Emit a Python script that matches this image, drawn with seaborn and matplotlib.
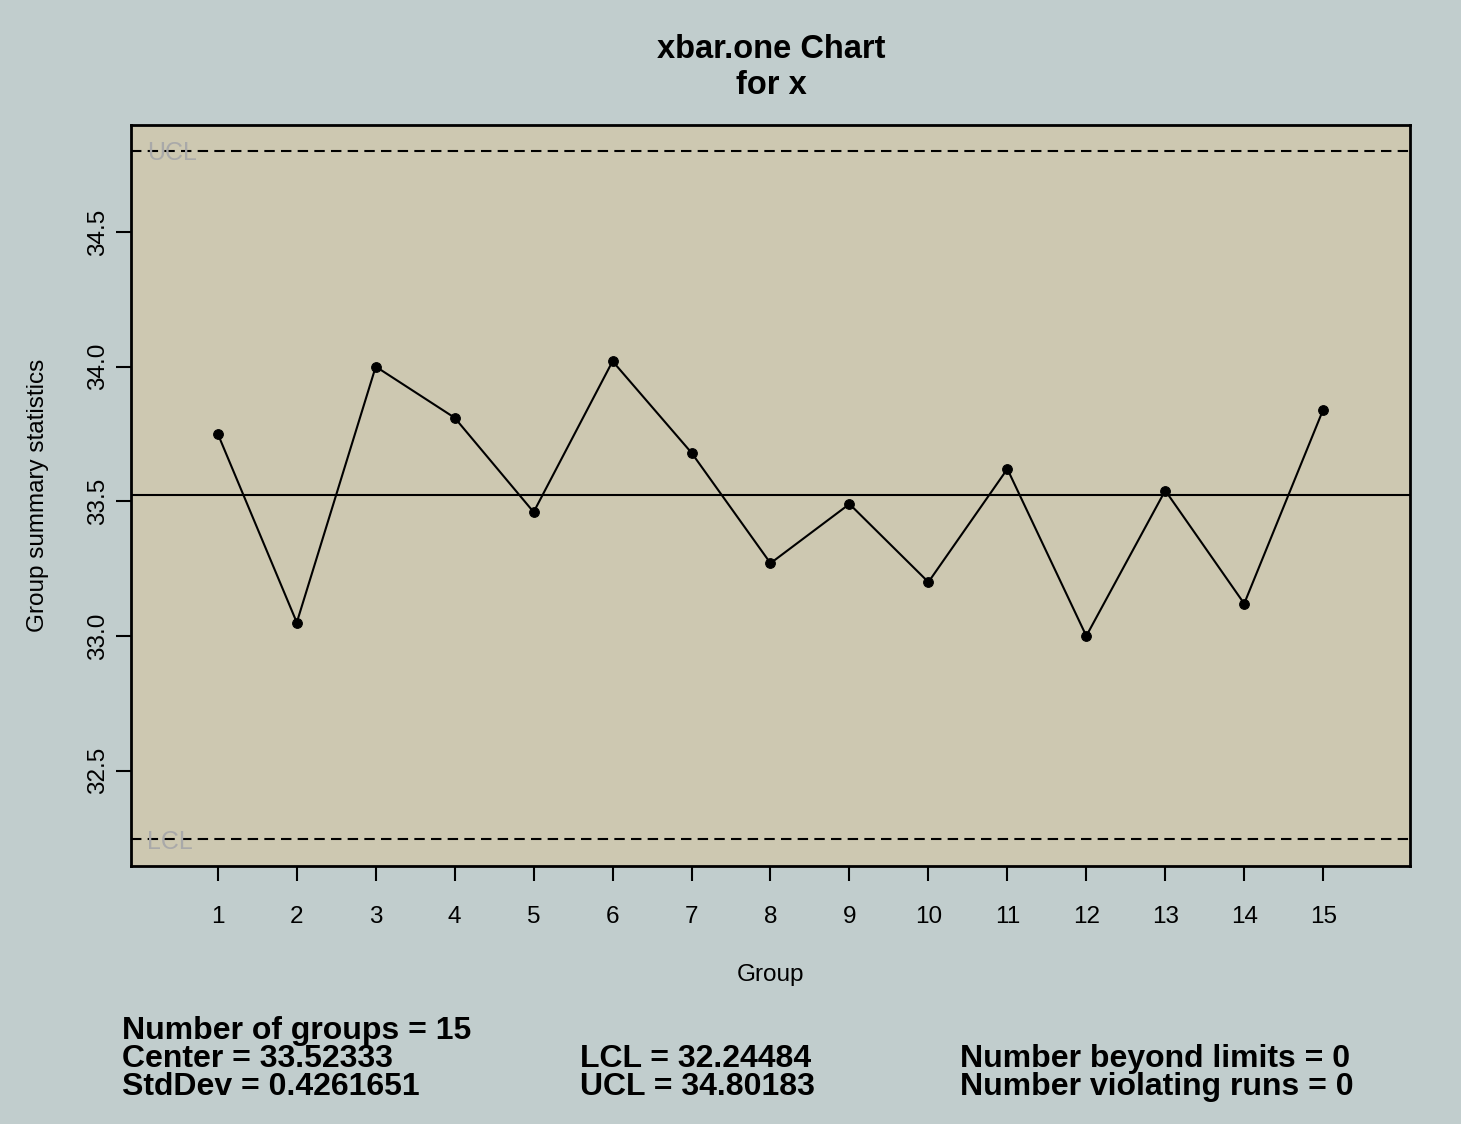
import numpy as np
import pandas as pd
import matplotlib
matplotlib.use("Agg")
import matplotlib.pyplot as plt
import seaborn as sns

groups = list(range(1, 16))
values = [33.75, 33.05, 34.00, 33.81, 33.46, 34.02, 33.68, 33.27,
          33.49, 33.20, 33.62, 33.00, 33.54, 33.12, 33.84]
center = 33.52333
lcl = 32.24484
ucl = 34.80183
stddev = 0.4261651
y_ticks = [32.5, 33.0, 33.5, 34.0, 34.5]

sns.set_style("ticks")
plt.rcParams['font.family'] = ['Liberation Sans', 'DejaVu Sans']
plt.rcParams['text.color'] = 'black'
plt.rcParams['axes.labelcolor'] = 'black'

df = pd.DataFrame({'group': groups, 'value': values})

fig = plt.figure(figsize=(14.61, 11.24), dpi=100)
fig.patch.set_facecolor('#C1CDCD')
ax = fig.add_axes([131 / 1461, 1 - 866 / 1124, (1410 - 131) / 1461, (866 - 125) / 1124])
ax.set_facecolor('#CDC8B1')

sns.lineplot(data=df, x='group', y='value', ax=ax, color='black', linewidth=1.5,
             marker='o', markersize=7, markeredgecolor='black', markerfacecolor='black')

ax.axhline(center, color='black', linewidth=1.5)
ax.axhline(ucl, color='black', linewidth=1.5, linestyle=(0, (5, 3)))
ax.axhline(lcl, color='black', linewidth=1.5, linestyle=(0, (5, 3)))
ax.text(0.10, ucl - 0.01, 'UCL', color='#A9A9A9', fontsize=18, va='center', ha='left')
ax.text(0.10, lcl - 0.01, 'LCL', color='#A9A9A9', fontsize=18, va='center', ha='left')

ax.set_xlim(-0.10, 16.10)
ax.set_ylim(32.146, 34.897)
ax.set_xticks(groups)
ax.set_xticklabels([str(g) for g in groups])
ax.set_yticks(y_ticks)
ax.set_yticklabels([f'{t:.1f}' for t in y_ticks], rotation=90, va='center')
ax.tick_params(axis='both', labelsize=17.5, length=11, width=1.5, colors='black')
ax.tick_params(axis='x', pad=18)
ax.tick_params(axis='y', pad=5)
for s in ax.spines.values():
    s.set_visible(True)
    s.set_linewidth(2)
    s.set_color('black')

ax.set_xlabel('Group', fontsize=17.5, labelpad=25.5)
ax.set_ylabel('Group summary statistics', fontsize=17.5, labelpad=27)

fig.text(771 / 1461, 1 - 50 / 1124, 'xbar.one Chart', ha='center', va='center',
         fontsize=23.5, fontweight='bold')
fig.text(771 / 1461, 1 - 85 / 1124, 'for x', ha='center', va='center',
         fontsize=23.5, fontweight='bold')

rows = [1 - 1031 / 1124, 1 - 1059 / 1124, 1 - 1087 / 1124]
kw = dict(ha='left', va='center', fontsize=23, fontweight='bold')
fig.text(122 / 1461, rows[0], 'Number of groups = 15', **kw)
fig.text(122 / 1461, rows[1], f'Center = {center}', **kw)
fig.text(122 / 1461, rows[2], f'StdDev = {stddev}', **kw)
fig.text(580 / 1461, rows[1], f'LCL = {lcl}', **kw)
fig.text(580 / 1461, rows[2], f'UCL = {ucl}', **kw)
fig.text(960 / 1461, rows[1], 'Number beyond limits = 0', **kw)
fig.text(960 / 1461, rows[2], 'Number violating runs = 0', **kw)

fig.savefig('out.png', dpi=100, facecolor=fig.get_facecolor())
